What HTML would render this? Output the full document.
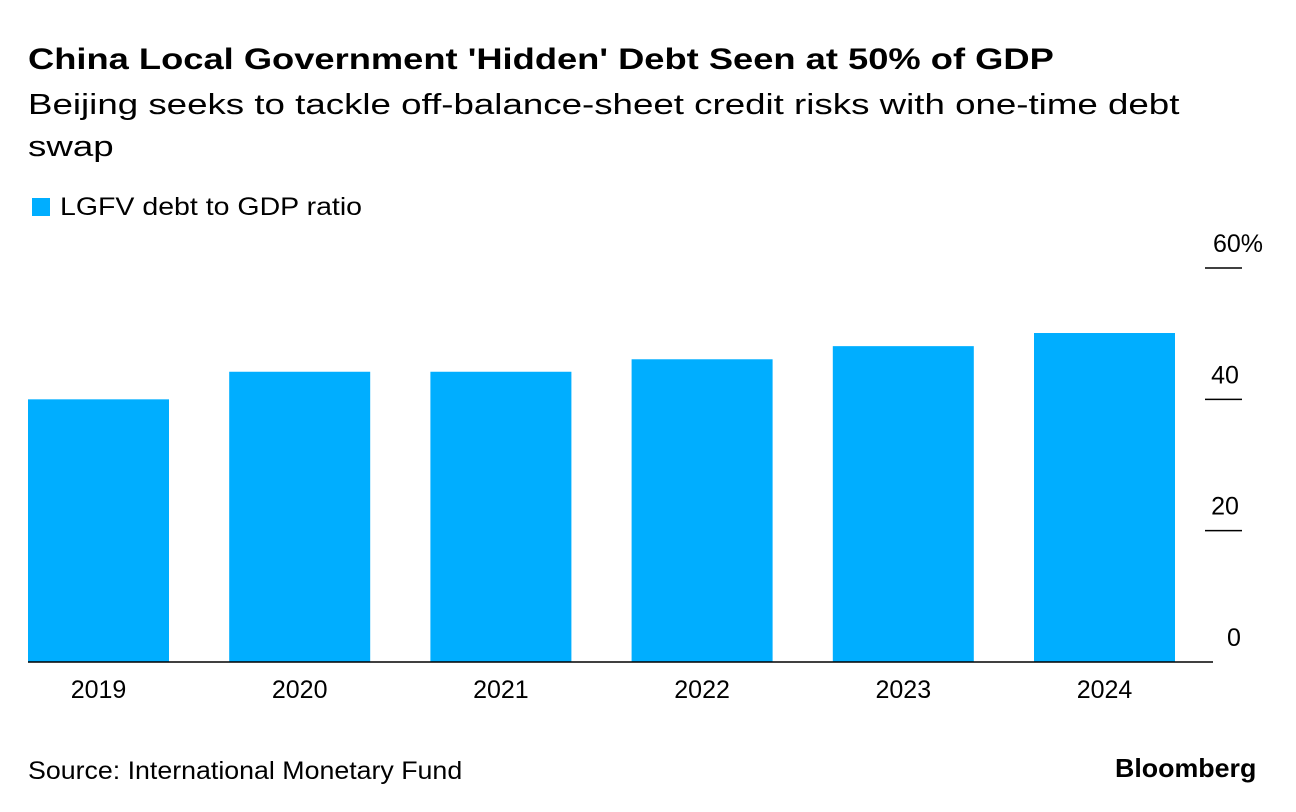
<!DOCTYPE html>
<html><head><meta charset="utf-8"><style>
body{margin:0;background:#fff;font-family:"Liberation Sans",sans-serif;color:#000}
#wrap{position:relative;width:1296px;height:812px;overflow:hidden}
.t{position:absolute;white-space:nowrap;transform-origin:0 0}
</style></head><body>
<div id="wrap">
<div class="t" style="left:28px;top:43px;font-size:30px;font-weight:bold;transform:scaleX(1.21)">China Local Government 'Hidden' Debt Seen at 50% of GDP</div>
<div class="t" style="left:28px;top:84px;font-size:29px;line-height:42px;white-space:normal;width:935px;transform:scaleX(1.265)">Beijing seeks to tackle off-balance-sheet credit risks with one-time debt swap</div>
<div class="t" style="left:32px;top:193px;font-size:25px"><span style="display:inline-block;width:18px;height:18px;background:#00aeff;margin-right:10px;vertical-align:-1px"></span><span style="display:inline-block;transform:scaleX(1.14);transform-origin:0 0">LGFV debt to GDP ratio</span></div>
<svg id="svg" width="1296" height="812" style="position:absolute;left:0;top:0"></svg>
<div class="t" style="left:28px;top:757px;font-size:25px;transform:scaleX(1.07)">Source: International Monetary Fund</div>
<div class="t" style="left:1115px;top:753px;font-size:26px;font-weight:bold;transform:scaleX(1.03)">Bloomberg</div>
</div>
<script>
const categories=["2019","2020","2021","2022","2023","2024"];
const values=[40,44.2,44.2,46.1,48.1,50.1];
const ticks=[0,20,40,60];
const tickLabels=["0","20","40","60%"];
const NS="http://www.w3.org/2000/svg";
const svg=document.getElementById('svg');
const y0=662,pxPer=394/60;
const y=v=>y0-v*pxPer;
const x=i=>28+i*201.2;
const bw=141;
function mk(tag,attrs){const e=document.createElementNS(NS,tag);for(const k in attrs)e.setAttribute(k,attrs[k]);svg.appendChild(e);return e;}
values.forEach((v,i)=>{
 const r=mk('rect',{x:x(i),y:y(v),width:bw,height:y0-y(v),fill:'#00aeff'});
 
 
 const t=mk('text',{x:x(i)+bw/2,y:698,'text-anchor':'middle','font-size':25,'font-family':'Liberation Sans, sans-serif'});
 t.textContent=categories[i];
 
 
});
ticks.forEach((v,i)=>{
 if(v>0){const l=mk('line',{x1:1205,x2:1242,y1:y(v),y2:y(v),stroke:'#000','stroke-width':1.5});
 
 }
 const t=mk('text',{x:1242,y:y(v)-16,'text-anchor':'middle','font-size':25,'font-family':'Liberation Sans, sans-serif'});
 if(i===ticks.length-1){t.setAttribute('x',1238);}
 else if(v===0){t.setAttribute('x',1234);}
 else t.setAttribute('x',1225);
 t.textContent=tickLabels[i];
 
 
});
const base=mk('line',{x1:28,x2:1213,y1:y0,y2:y0,stroke:'#000','stroke-width':1.5});


</script>
</body></html>
